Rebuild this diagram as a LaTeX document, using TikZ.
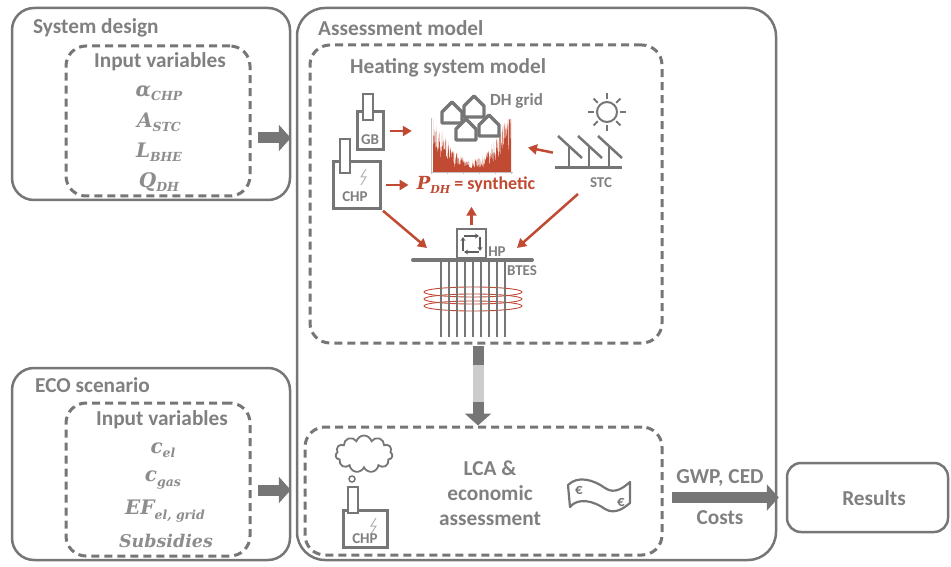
\documentclass[tikz,border=0pt]{standalone}
\usepackage[no-math]{fontspec}
\setmainfont{Carlito}
\newfontfamily\varfont{DejaVu Serif}
\usetikzlibrary{arrows.meta,shapes.symbols}

\definecolor{boxgray}{RGB}{118,118,118}
\definecolor{txtgray}{RGB}{128,128,128}
\definecolor{barlight}{RGB}{204,204,204}
\definecolor{heatred}{RGB}{192,74,50}

% italic variable with a lowered subscript
\newcommand{\sv}[2]{{\varfont\bfseries\itshape #1\raisebox{-0.22em}{\fontsize{12.5}{12}\selectfont #2}}}

\tikzset{
  outerbox/.style={draw=boxgray, line width=2.5pt, rounded corners=22pt, inner sep=0pt},
  dashbox/.style={draw=boxgray, line width=3pt, dash pattern=on 8pt off 5pt, rounded corners=20pt, inner sep=0pt},
  boxtitle/.style={font=\bfseries\fontsize{21.3}{25}\selectfont, text=txtgray, inner sep=0pt},
  varlabel/.style={font=\fontsize{20}{22}\selectfont, text=txtgray!90, inner sep=0pt},
  iconlabel/.style={font=\bfseries\fontsize{15}{18}\selectfont, text=txtgray, inner sep=0pt},
  iconline/.style={draw=boxgray, line width=3pt, fill=white},
  bigarrow/.style={draw=boxgray, line width=11pt, -{Triangle[length=12pt,width=26pt]}},
  redarrow/.style={draw=heatred, line width=2.5pt, -{Triangle[length=9pt,width=10pt]}},
  cyclearrow/.style={draw=boxgray!80!black, line width=1.5pt, -{Stealth[length=4pt,width=5pt]}},
  house/.pic={\draw[iconline, line width=3.3pt, line join=round] (-10,0) -- (-10,-11) -- (0,-21) -- (10,-11) -- (10,0) -- cycle;}
}

\begin{document}
\begin{tikzpicture}[x=1pt, y=-1pt]
\useasboundingbox (0,0) rectangle (951,567);

% system design
\node[outerbox, minimum width=278, minimum height=192] (sys) at (151,104) {};
\node[boxtitle, anchor=west] (systitle) at (33,28) {System design};
\node[dashbox, minimum width=184, minimum height=150] (sysvars) at (158,121) {};
\node[boxtitle] (sysin) at (160,62) {Input variables};
\node[varlabel] (alpha) at (159,93) {\sv{α}{CHP}};
\node[varlabel] (astc) at (159,122) {\sv{A}{STC}};
\node[varlabel] (lbhe) at (159,152) {\sv{L}{BHE}};
\node[varlabel] (qdh) at (159,182) {\sv{Q}{DH}};

% eco scenario
\node[outerbox, minimum width=278, minimum height=192] (eco) at (151,464) {};
\node[boxtitle, anchor=west] (ecotitle) at (35,385) {ECO scenario};
\node[dashbox, minimum width=184, minimum height=153] (ecovars) at (158,479.5) {};
\node[boxtitle] (ecoin) at (162,420) {Input variables};
\node[varlabel] (cel) at (163,450) {\sv{c}{el}};
\node[varlabel] (cgas) at (163,480) {\sv{c}{gas}};
\node[varlabel] (efgrid) at (165,511) {\sv{EF}{el, grid}};
\node[varlabel, font=\varfont\bfseries\itshape\fontsize{17.5}{20}\selectfont] (subs) at (166,541) {Subsidies};

% assessment model
\node[outerbox, rounded corners=28pt, minimum width=479, minimum height=552] (assess) at (536.5,284) {};
\node[boxtitle, anchor=west] (assesstitle) at (318,28) {Assessment model};
\node[dashbox, minimum width=352, minimum height=298] (heat) at (486,194) {};
\node[boxtitle, anchor=west] (heattitle) at (350,68) {Heating system model};
\node[dashbox, minimum width=357, minimum height=128] (lca) at (483.5,491) {};

% results
\node[outerbox, rounded corners=14pt, minimum width=161, minimum height=69] (results) at (867.5,497.5) {};
\node[boxtitle] (restext) at (874,498) {Results};

% block arrows
\coordinate (sysout) at (258,138);
\coordinate (ecoout) at (258,490);
\coordinate (heatout) at (478,346);
\coordinate (lcaout) at (672,497.5);
\draw[bigarrow, shorten >=5pt] (sysout) -- (sysout -| assess.west);
\draw[bigarrow, shorten >=5pt] (ecoout) -- (ecoout -| assess.west);
\draw[bigarrow] (heatout) -- (heatout |- lca.north);
\fill[barlight] ([shift={(-5.5,19)}]heatout) rectangle ([shift={(5.5,56)}]heatout);
\draw[bigarrow, shorten >=7pt] (lcaout) -- (lcaout -| results.west);
\node[boxtitle] (gwp) at (720,478) {GWP, CED};
\node[boxtitle] (costs) at (720,518) {Costs};

% gas boiler and CHP
\node[iconline, minimum width=26, minimum height=38, inner sep=0pt] (gb) at (370,131) {};
\draw[iconline, line width=2pt] (363,120) rectangle (373,94);
\node[iconlabel] (gblabel) at (370,140) {GB};
\node[iconline, minimum width=47, minimum height=46, inner sep=0pt] (chp) at (356.5,185) {};
\draw[iconline, line width=2pt] (340,173) rectangle (350,139);
\draw[gray!60, line width=1pt] (366,169) -- (361,177) -- (366,177) -- (361,185);
\node[iconlabel] (chplabel) at (355,197) {CHP};

% synthetic heat demand
\node[inner sep=0pt, minimum width=85, minimum height=54] (chart) at (472.5,145) {};
\draw[gray!50, line width=0.4pt] (431,118) -- (431,172) -- (513,172);
\foreach \tx in {431,447,463,479,495,511}
  \draw[gray!50, line width=0.4pt] (\tx,172) -- (\tx,174);
\pgfmathsetseed{4}
\fill[heatred] (433,172) -- plot[domain=433:511, samples=320]
  (\x, {172 - min(53, max(3, 6 + 36*((\x-471)/39)^2 + 18*rand*(0.35+((\x-471)/39)^2)))}) -- (511,172) -- cycle;
\pic at (452,123) {house};
\pic at (474,117) {house};
\pic at (466,140) {house};
\pic at (489,136) {house};
\node[font=\bfseries\fontsize{17}{20}\selectfont, text=txtgray, inner sep=0pt, anchor=west] (dhgrid) at (490,101) {DH grid};
\node[font=\bfseries\fontsize{18}{22}\selectfont, text=heatred, inner sep=0pt] (pdh) at (476,185)
  {{\varfont\bfseries\itshape P\raisebox{-0.22em}{\fontsize{11}{11}\selectfont DH}} = synthetic};

% solar thermal collectors
\draw[boxgray, line width=2pt] (607,112) circle (10);
\foreach \a in {0,45,...,315}
  \draw[boxgray, line width=2pt] ([shift={(\a:13)}]607,112) -- ([shift={(\a:19)}]607,112);
\node[inner sep=0pt, minimum width=67, minimum height=30] (stcpanel) at (588.5,153) {};
\foreach \sx in {558,578,598} {
  \draw[boxgray, line width=2.5pt] (\sx,136) -- (\sx+24,158);
  \draw[boxgray, line width=2.5pt] (\sx+11,146) -- (\sx+11,168);
}
\draw[boxgray, line width=3pt] (555,168) -- (622,168);
\node[iconlabel] (stc) at (601,183) {STC};
\coordinate (stcfoot) at (578,194);

% heat pump and borehole storage
\node[draw=boxgray, line width=1.5pt, fill=white, minimum size=29, inner sep=0pt] (hp) at (471.5,243.5) {};
\draw[cyclearrow] (464,236) -- (479,236);
\draw[cyclearrow] (480,237) -- (480,251);
\draw[cyclearrow] (479,252) -- (464,252);
\draw[cyclearrow] (463,251) -- (463,237);
\node[iconlabel] (hplabel) at (497,252) {HP};
\node[iconlabel, anchor=west] (bteslabel) at (507,271) {BTES};
\foreach \ey in {292,299,306}
  \draw[heatred, line width=0.9pt] (473,\ey) ellipse [x radius=49, y radius=5];
\foreach \bx in {0,...,8}
  \draw[boxgray, line width=1.2pt] (441+8*\bx,261) -- (441+8*\bx,337);
\draw[boxgray, line width=4pt, line cap=round] (413,260) -- (532,260);
\coordinate (btesleft) at (427,248);
\coordinate (btesright) at (517,248);

% heat flows
\draw[redarrow, shorten <=5pt, shorten >=18pt] (gb.east) -- (gb.east -| chart.west);
\draw[redarrow, shorten <=4pt, shorten >=8pt] (chp.east) -- (pdh.west);
\draw[redarrow, shorten <=2pt, shorten >=13pt] (stcpanel.west) -- (chart.east);
\draw[redarrow, shorten <=2pt] (chp.south east) -- (btesleft);
\draw[redarrow] (stcfoot) -- (btesright);
\draw[redarrow, shorten <=3pt, shorten >=13pt] (hp.north) -- (hp.north |- pdh.south);

% LCA and costs
\node[cloud, cloud puffs=11, aspect=1.6, draw=boxgray, line width=1.8pt, minimum width=57, minimum height=37, inner sep=0pt] (smoke) at (364,454) {};
\draw[boxgray, line width=1.5pt] (352,479) circle (3);
\node[iconline, minimum width=44, minimum height=37, inner sep=0pt] (lcachp) at (365,528.5) {};
\draw[iconline, line width=1.5pt] (348,513) rectangle (358,487);
\draw[gray!60, line width=1pt] (376,518) -- (371,526) -- (376,526) -- (371,534);
\node[iconlabel] (lcachplabel) at (365,539) {CHP};
\node[boxtitle, align=center] (lcatext) at (490,493) {LCA \&\\economic\\assessment};
\draw[boxgray, line width=2.2pt, fill=white, line join=round] (568,485)
  .. controls (578,475) and (594,480) .. (605,488)
  .. controls (615,495) and (624,487) .. (630,482) -- (630,503)
  .. controls (624,508) and (615,515) .. (605,509)
  .. controls (594,501) and (578,497) .. (570,507) -- cycle;
\node[font=\bfseries\fontsize{15}{16}\selectfont, text=boxgray, inner sep=0pt] (euroa) at (579,490) {€};
\node[font=\bfseries\fontsize{15}{16}\selectfont, text=boxgray, inner sep=0pt] (eurob) at (621,502) {€};

\end{tikzpicture}
\end{document}
